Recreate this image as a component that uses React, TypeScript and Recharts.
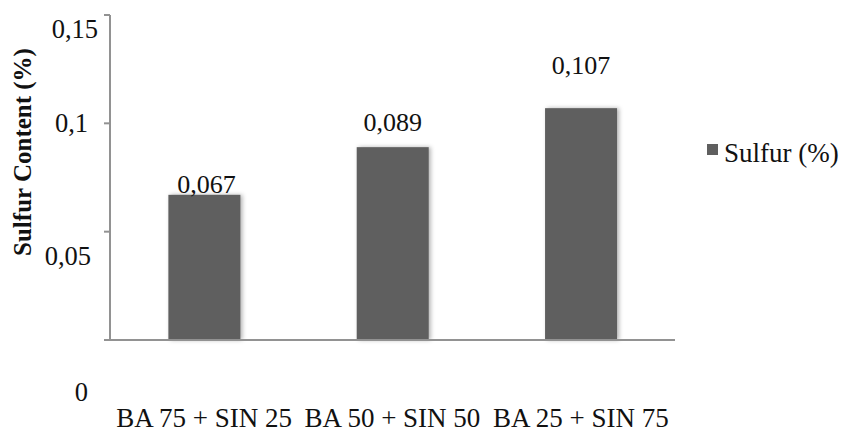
import React from "react";
import { BarChart, Bar, XAxis, YAxis, Legend, LabelList } from "recharts";

const categories = ["BA 75 + SIN 25", "BA 50 + SIN 50", "BA 25 + SIN 75"];
const sulfurValues = [0.067, 0.089, 0.107];
const yTicks = [0, 0.05, 0.1, 0.15];
const seriesName = "Sulfur (%)";
const yTitle = "Sulfur Content (%)";

const data = categories.map((c, i) => ({ name: c, sulfur: sulfurValues[i] }));

const FONT = '"Liberation Serif", "Times New Roman", serif';
const BAR = "#5f5f5f";
const AXIS = "#929292";

const fmt = (v: number) => String(v).replace(".", ",");

// per-tick label placement quirks of the reference
const yTickShift: Record<string, { dx: number; dy: number }> = {
  "0": { dx: -14, dy: 52 },
  "0.05": { dx: -11, dy: 24 },
  "0.1": { dx: -14, dy: 0 },
  "0.15": { dx: -4, dy: 14 },
};

const YTick = (props: any) => {
  const { x, y, payload } = props;
  const s = yTickShift[String(payload.value)] || { dx: 0, dy: 0 };
  return (
    <text
      x={x + s.dx}
      y={y + s.dy}
      textAnchor="end"
      dominantBaseline="central"
      fontFamily={FONT}
      fontSize={26.5}
      fill="#111"
    >
      {fmt(payload.value)}
    </text>
  );
};

const XTick = (props: any) => {
  const { x, y, payload } = props;
  return (
    <text
      x={x}
      y={y + 70}
      textAnchor="middle"
      dominantBaseline="central"
      fontFamily={FONT}
      fontSize={27}
      fill="#111"
    >
      {payload.value}
    </text>
  );
};

const labelLift = [10, 25, 43];

const BarValueLabel = (props: any) => {
  const { x, y, width, value, index } = props;
  return (
    <text
      x={x + width / 2 + (index === 0 ? 2 : 0)}
      y={y - labelLift[index]}
      textAnchor="middle"
      dominantBaseline="central"
      fontFamily={FONT}
      fontSize={26}
      fill="#111"
    >
      {fmt(value)}
    </text>
  );
};

const ShadowBar = (props: any) => {
  const { x, y, width, height, fill } = props;
  return (
    <rect
      x={x}
      y={y}
      width={width}
      height={height}
      fill={fill}
      style={{ filter: "drop-shadow(2px 0px 2px rgba(0,0,0,0.3))" }}
    />
  );
};

const LegendContent = () => (
  <div style={{ display: "flex", alignItems: "center", fontFamily: FONT, fontSize: 27, color: "#111" }}>
    <span style={{ display: "inline-block", width: 11, height: 11, background: BAR, marginRight: 6, marginTop: -8 }} />
    <span>{seriesName}</span>
  </div>
);

const YTitle = (props: any) => {
  const vb = props.viewBox || { x: 0, y: 15 };
  const cx = vb.x + 22;
  const cy = 152;
  return (
    <text
      x={cx}
      y={cy}
      transform={`rotate(-90, ${cx}, ${cy})`}
      textAnchor="middle"
      dominantBaseline="central"
      fontFamily={FONT}
      fontSize={25}
      fontWeight="bold"
      fill="#111"
    >
      {yTitle}
    </text>
  );
};

export default function App() {
  return (
    <div style={{ position: "absolute", left: 0, top: 0, width: 843, height: 434, background: "#fff" }}>
      <BarChart
        width={843}
        height={434}
        data={data}
        margin={{ top: 15, right: 28, left: 0, bottom: 0 }}
        barCategoryGap="31%"
      >
        <XAxis
          dataKey="name"
          tick={<XTick />}
          tickLine={false}
          axisLine={{ stroke: AXIS, strokeWidth: 2 }}
          height={94}
          interval={0}
        />
        <YAxis
          domain={[0, 0.15]}
          ticks={yTicks}
          tick={<YTick />}
          tickLine={{ stroke: AXIS, strokeWidth: 2 }}
          axisLine={{ stroke: AXIS, strokeWidth: 2 }}
          width={110}
          label={<YTitle />}
          interval={0}
        />
        <Legend
          layout="horizontal"
          verticalAlign="middle"
          align="right"
          content={<LegendContent />}
          wrapperStyle={{ left: 707, top: 138, width: 140 }}
        />
        <Bar dataKey="sulfur" name={seriesName} fill={BAR} shape={<ShadowBar />} isAnimationActive={false}>
          <LabelList dataKey="sulfur" content={<BarValueLabel />} />
        </Bar>
      </BarChart>
    </div>
  );
}
